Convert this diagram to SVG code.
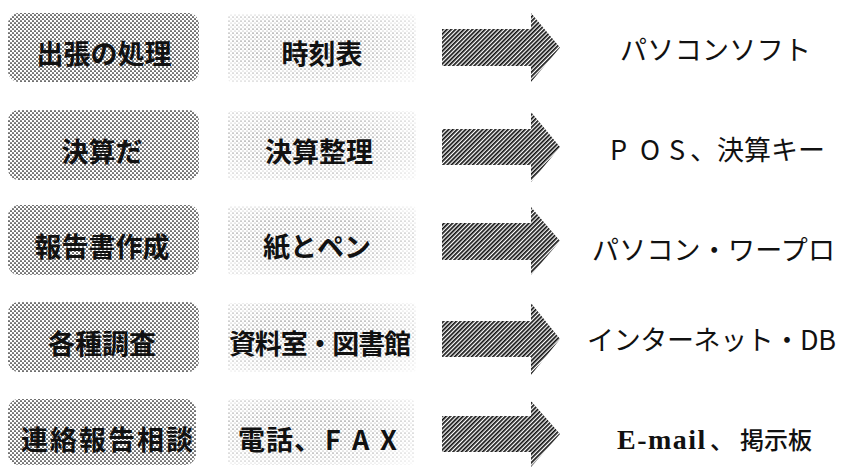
<svg xmlns="http://www.w3.org/2000/svg" width="848" height="468" viewBox="0 0 848 468">
  <style>
    .lbox { fill: url(#dots); }
    .mbox { fill: url(#sparse); mask: url(#fade); }
    .arrow { fill: url(#hatch); }
    .lt { font-family: "Noto Sans CJK JP", "Noto Sans", sans-serif; font-size: 27px; font-weight: 700; fill: #111; text-anchor: middle; }
    .rt { font-family: "Noto Sans CJK JP", "Noto Sans", sans-serif; font-size: 27px; font-weight: 400; fill: #111; }
    .em { font-family: "Liberation Serif", "Noto Sans CJK JP", serif; font-weight: 700; font-size: 28px; letter-spacing: 1.5px; }
    .cj { font-family: "Noto Sans CJK JP", sans-serif; font-weight: 500; font-size: 24px; }
  </style>
  <defs>
    <pattern id="dots" width="4" height="4" patternUnits="userSpaceOnUse">
      <rect width="4" height="4" fill="#fff"/>
      <circle cx="1" cy="1" r="0.85" fill="#000"/>
      <circle cx="3" cy="3" r="0.85" fill="#000"/>
    </pattern>
    <pattern id="sparse" width="4" height="4" patternUnits="userSpaceOnUse">
      <rect width="4" height="4" fill="#fff"/>
      <circle cx="1" cy="1" r="0.55" fill="#000"/>
      <circle cx="3" cy="3" r="0.4" fill="#000"/>
    </pattern>
    <pattern id="hatch" width="3" height="3" patternUnits="userSpaceOnUse" patternTransform="rotate(45)">
      <rect width="3" height="3" fill="#fff"/>
      <rect width="1.7" height="3" fill="#111"/>
    </pattern>
    <radialGradient id="fadeGrad" cx="0.42" cy="0.45" r="0.75">
      <stop offset="0.4" stop-color="#fff"/>
      <stop offset="1" stop-color="#333"/>
    </radialGradient>
    <mask id="fade" maskContentUnits="objectBoundingBox">
      <rect width="1" height="1" fill="url(#fadeGrad)"/>
    </mask>
  </defs>
  <rect width="848" height="468" fill="#fff"/>

  <g id="task1">
    <rect class="lbox" x="8" y="13" width="191" height="69" rx="11"/>
    <text class="lt" x="104" y="64">出張の処理</text>
  </g>
  <g id="old1">
    <rect class="mbox" x="228" y="14" width="188" height="68" rx="4"/>
    <text class="lt" x="322" y="64">時刻表</text>
  </g>
  <g id="new1">
    <text class="rt" x="620" y="60" textLength="191" lengthAdjust="spacing">パソコンソフト</text>
  </g>

  <g id="task2">
    <rect class="lbox" x="8" y="110" width="191" height="70" rx="11"/>
    <text class="lt" x="102" y="162">決算だ</text>
  </g>
  <g id="old2">
    <rect class="mbox" x="228" y="111" width="188" height="69" rx="4"/>
    <text class="lt" x="319" y="162">決算整理</text>
  </g>
  <g id="new2">
    <text class="rt" x="610 640 669 690 717" y="160">POS、決算キー</text>
  </g>

  <g id="task3">
    <rect class="lbox" x="8" y="205" width="191" height="70" rx="11"/>
    <text class="lt" x="102" y="257">報告書作成</text>
  </g>
  <g id="old3">
    <rect class="mbox" x="228" y="206" width="188" height="69" rx="4"/>
    <text class="lt" x="317" y="257">紙とペン</text>
  </g>
  <g id="new3">
    <text class="rt" x="592" y="260" textLength="243" lengthAdjust="spacing">パソコン・ワープロ</text>
  </g>

  <g id="task4">
    <rect class="lbox" x="8" y="302" width="191" height="70" rx="11"/>
    <text class="lt" x="102" y="354">各種調査</text>
  </g>
  <g id="old4">
    <rect class="mbox" x="228" y="303" width="188" height="69" rx="4"/>
    <text class="lt" x="320" y="354" textLength="182" lengthAdjust="spacing">資料室・図書館</text>
  </g>
  <g id="new4">
    <text class="rt" x="587" y="350" textLength="249" lengthAdjust="spacing">インターネット・DB</text>
  </g>

  <g id="task5">
    <rect class="lbox" x="8" y="399" width="188" height="66" rx="11"/>
    <text class="lt" x="107" y="450" textLength="172" lengthAdjust="spacing">連絡報告相談</text>
  </g>
  <g id="old5">
    <rect class="mbox" x="228" y="399" width="186" height="66" rx="4"/>
    <text class="lt" x="238 266 294 325 352 380" y="450" style="text-anchor:start">電話、FAX</text>
  </g>
  <g id="new5">
    <text class="rt" x="617" y="449"><tspan class="em">E-mail</tspan><tspan class="cj" x="710">、</tspan><tspan class="cj" x="740">掲示板</tspan></text>
  </g>

  <g id="connectors">
    <path class="arrow" d="M442 29 H531 V13 L560 47.5 L531 82 V66 H442 Z"/>
    <path class="arrow" d="M442 129 H531 V112 L560 147 L531 182 V165 H442 Z"/>
    <path class="arrow" d="M442 223 H531 V207 L560 241 L531 275 V260 H442 Z"/>
    <path class="arrow" d="M442 321 H531 V303 L560 339 L531 375 V357 H442 Z"/>
    <path class="arrow" d="M442 416 H531 V401 L560 434 L531 467 V452 H442 Z"/>
  </g>
</svg>
